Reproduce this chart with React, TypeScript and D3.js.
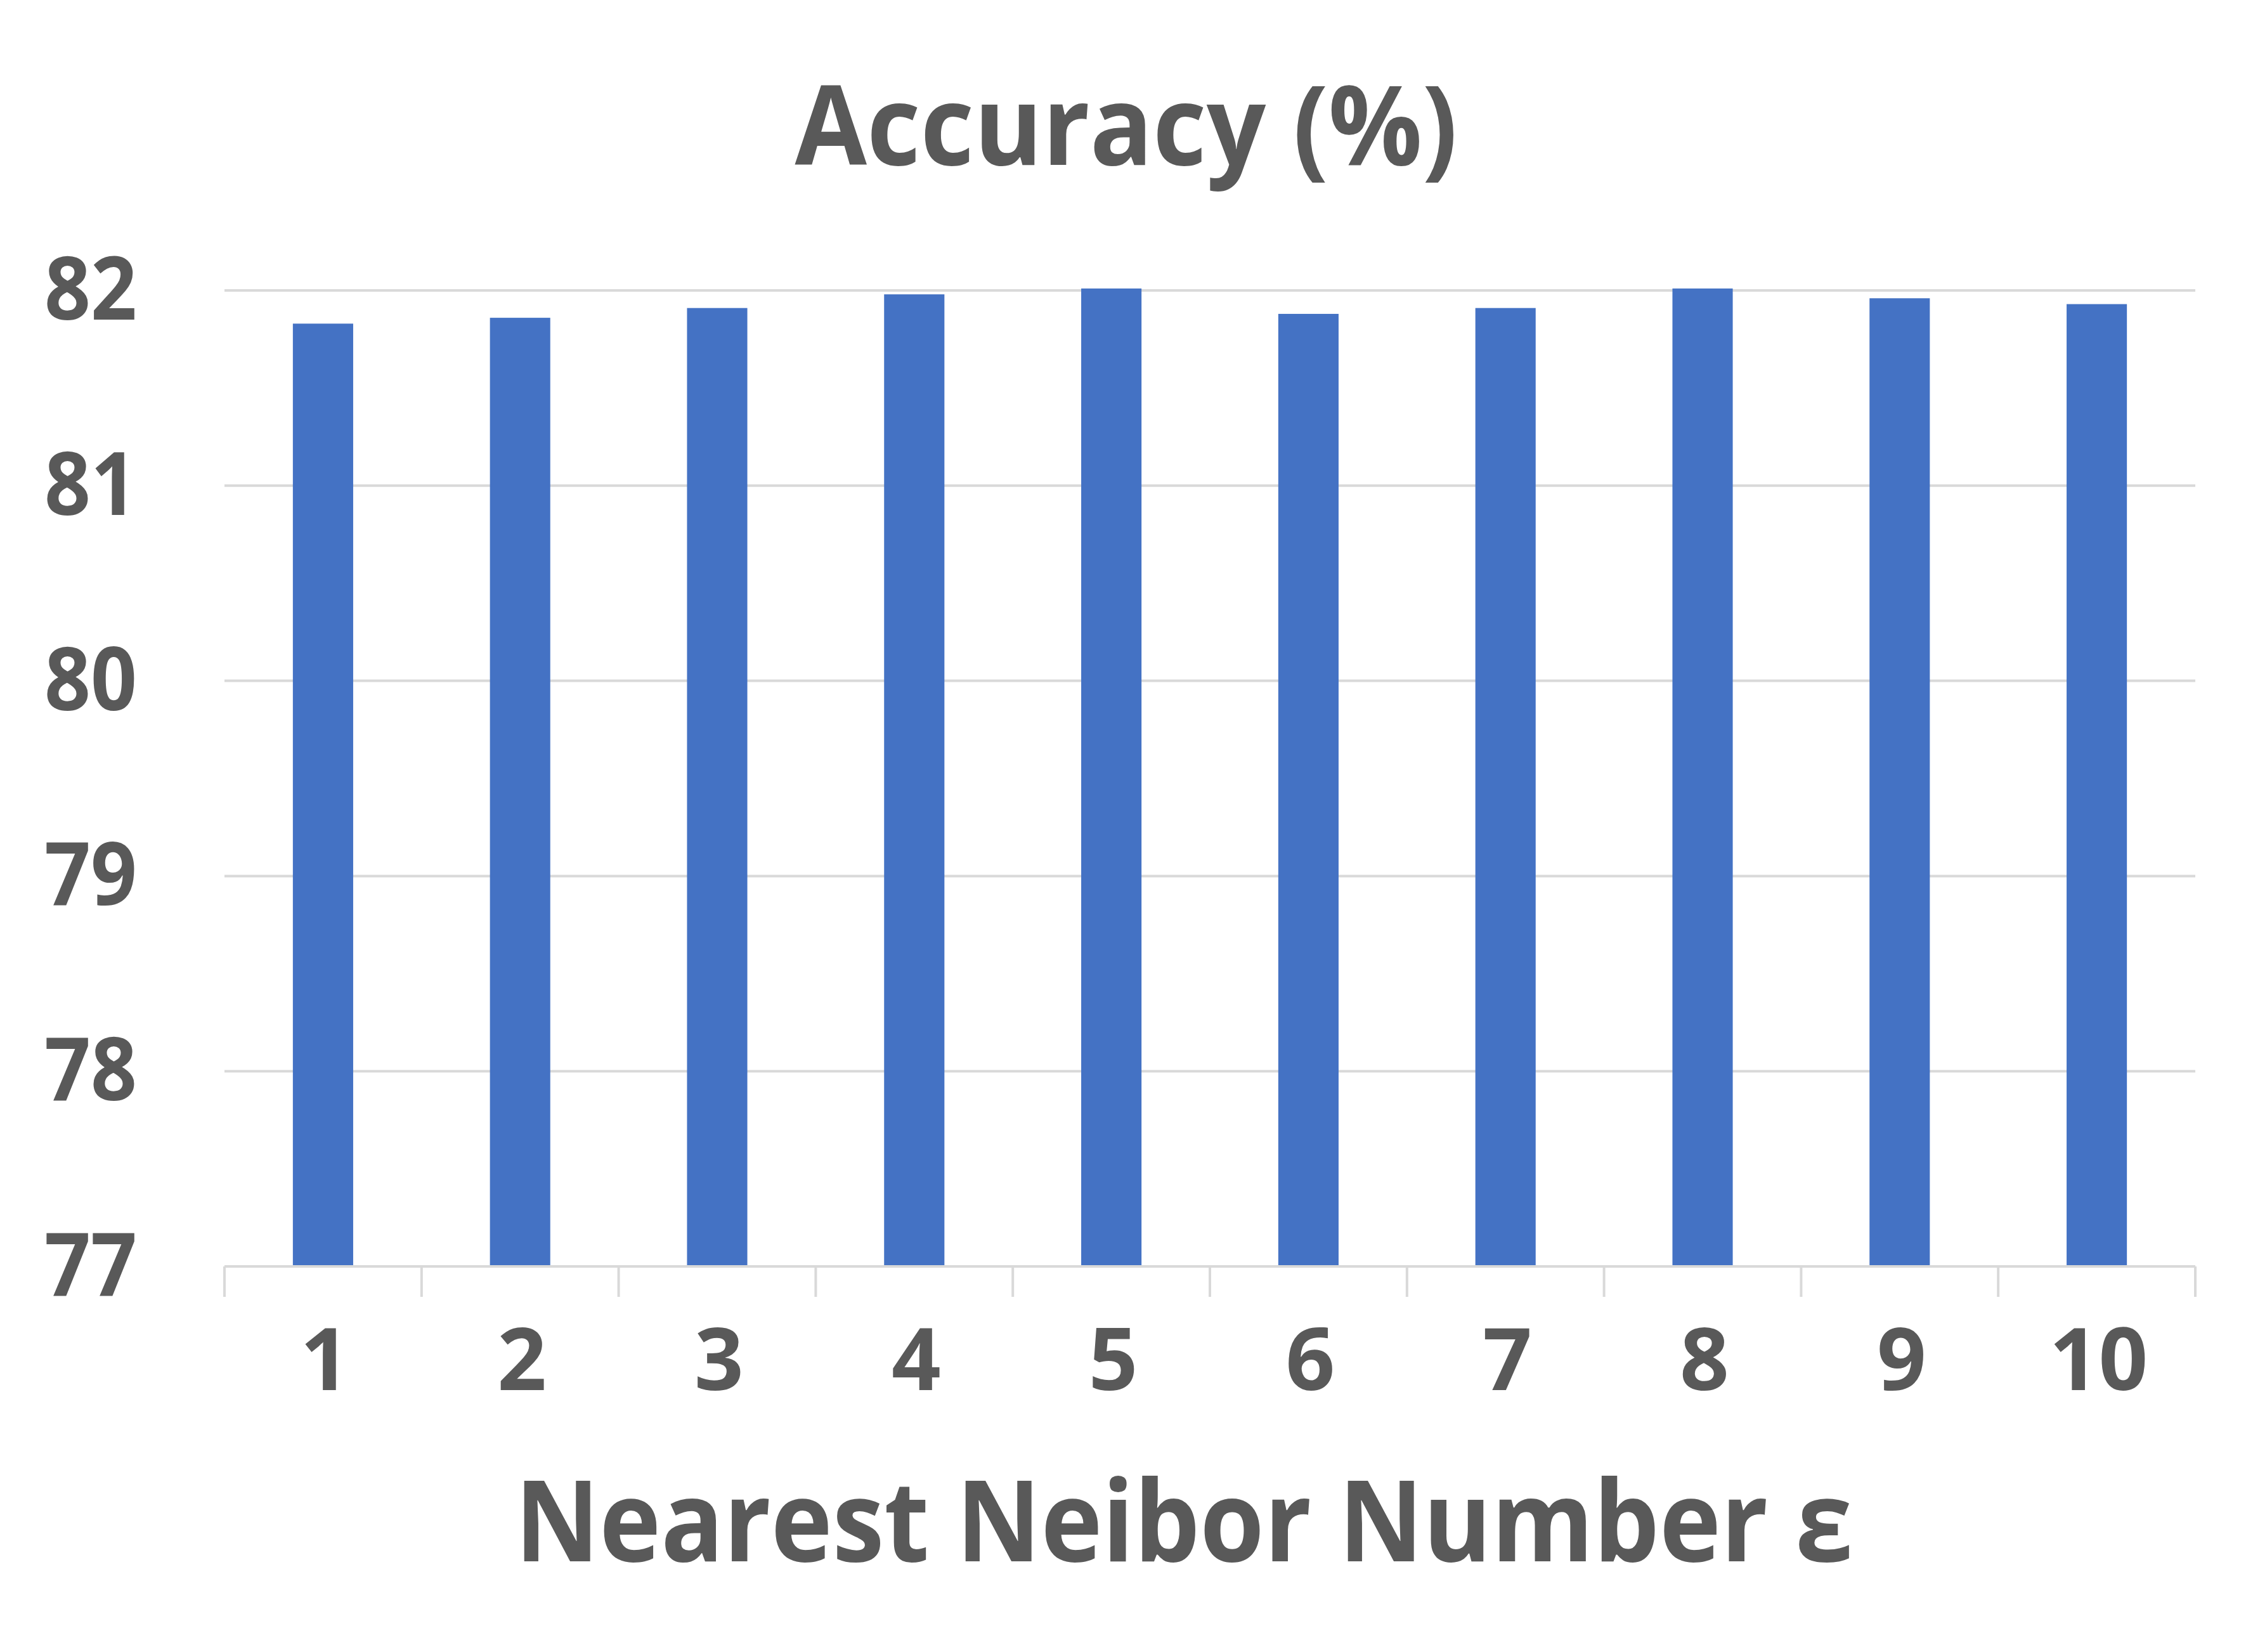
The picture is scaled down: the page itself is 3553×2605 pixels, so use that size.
import React from "react";
import * as d3 from "d3";

const categories = ["1", "2", "3", "4", "5", "6", "7", "8", "9", "10"];
const accuracy = [81.83, 81.86, 81.91, 81.98, 82.01, 81.88, 81.91, 82.01, 81.96, 81.93];
const yTicks = [77, 78, 79, 80, 81, 82];
const chartTitle = "Accuracy (%)";
const xTitle = "Nearest Neibor Number ε";

const W = 3553;
const H = 2605;
const FONT = "'Open Sans', 'Noto Sans', sans-serif";
const TEXT = "#595959";
const GRID = "#d9d9d9";
const BAR = "#4472C4";

export default function App() {
  const left = 354;
  const right = 3462;
  const x = d3
    .scaleBand<string>()
    .domain(categories)
    .range([left, right])
    .paddingInner(0.694)
    .paddingOuter(0.347);
  const y = d3.scaleLinear().domain([77, 82]).range([1997, 458]);
  const step = x.step();
  const boundaries = d3.range(categories.length + 1).map((i) => left + i * step);

  return (
    <svg
      width={W}
      height={H}
      style={{ position: "absolute", left: 0, top: 0, background: "#fff" }}
      fontFamily={FONT}
    >
      <rect x={0} y={0} width={W} height={H} fill="#fff" />
      {yTicks
        .filter((t) => t !== 77)
        .map((t) => (
          <line key={t} x1={left} x2={right} y1={y(t)} y2={y(t)} stroke={GRID} strokeWidth={4} />
        ))}
      {accuracy.map((v, i) => (
        <rect
          key={i}
          x={x(categories[i])}
          y={y(v)}
          width={x.bandwidth()}
          height={y(77) - y(v)}
          fill={BAR}
        />
      ))}
      <line x1={left} x2={right} y1={y(77)} y2={y(77)} stroke={GRID} strokeWidth={4} />
      {boundaries.map((bx, i) => (
        <line key={i} x1={bx} x2={bx} y1={y(77)} y2={y(77) + 48} stroke={GRID} strokeWidth={4} />
      ))}
      {yTicks.map((t) => (
        <text
          key={t}
          x={216}
          y={y(t) + 46}
          textAnchor="end"
          fontSize={138}
          fontWeight={700}
          fill={TEXT}
          textLength={146}
          lengthAdjust="spacingAndGlyphs"
        >
          {t}
        </text>
      ))}
      {categories.map((c) => (
        <text
          key={c}
          x={(x(c) as number) + x.bandwidth() / 2 + 3}
          y={2192}
          textAnchor="middle"
          fontSize={136}
          fontWeight={700}
          fill={TEXT}
        >
          {c}
        </text>
      ))}
      <text
        x={1776}
        y={260}
        textAnchor="middle"
        fontSize={174}
        fontWeight={700}
        fill={TEXT}
        textLength={1045}
        lengthAdjust="spacingAndGlyphs"
      >
        {chartTitle}
      </text>
      <text
        x={1867}
        y={2462}
        textAnchor="middle"
        fontSize={177}
        fontWeight={700}
        fill={TEXT}
        textLength={2110}
        lengthAdjust="spacingAndGlyphs"
      >
        {xTitle}
      </text>
    </svg>
  );
}
